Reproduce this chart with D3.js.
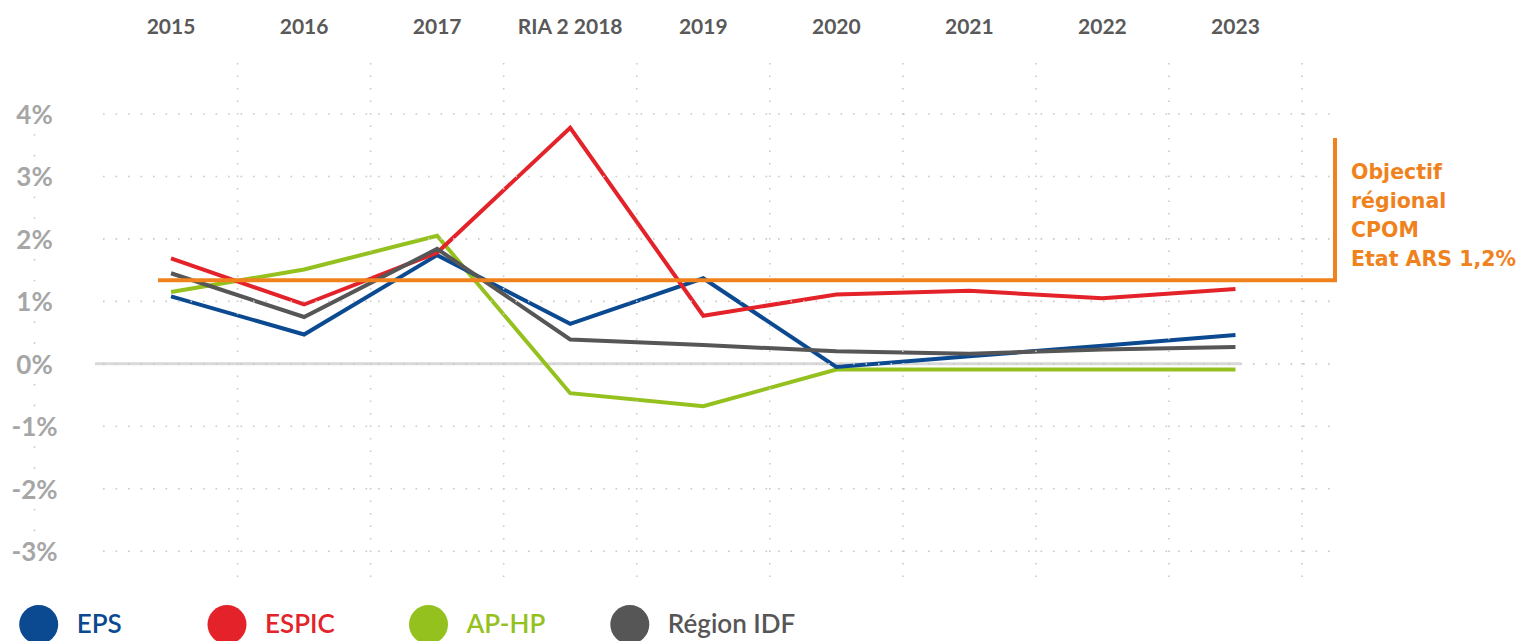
<!DOCTYPE html>
<html><head><meta charset="utf-8">
<script src="https://cdn.jsdelivr.net/npm/d3@7"></script>
<style>
html,body{margin:0;padding:0;background:#fff;}
svg{display:block;}
text{font-family:Lato,"Open Sans",sans-serif;}
</style></head>
<body>
<svg id="chart" width="1519" height="641"></svg>
<script>
// ---- data ----
const categories = ["2015","2016","2017","RIA 2 2018","2019","2020","2021","2022","2023"];
const seriesNames = ["EPS","ESPIC","AP-HP","Région IDF"];
const seriesColors = ["#0b4a91","#e3222a","#95c11f","#575656"];
const eps    = [1.08, 0.47, 1.74, 0.64, 1.37, -0.05, 0.12, 0.29, 0.46];
const espic  = [1.69, 0.95, 1.78, 3.78, 0.77, 1.11, 1.17, 1.05, 1.20];
const aphp   = [1.15, 1.51, 2.05, -0.47, -0.68, -0.09, -0.09, -0.09, -0.09];
const region = [1.45, 0.75, 1.84, 0.39, 0.30, 0.20, 0.16, 0.23, 0.27];
const yTicks = [4, 3, 2, 1, 0, -1, -2, -3];
const objectiveValue = 1.34;
const objectiveLines = ["Objectif", "régional", "CPOM", "Etat ARS 1,2%"];
const objectiveColor = "#f0821e";

// layout constants
const legendCenters = [38.7, 227, 428.5, 629.8];

const svg = d3.select("#chart");

const x = d3.scaleBand().domain(categories).range([104.5, 1302]).paddingInner(0).paddingOuter(0);
const cx = c => x(c) + x.bandwidth() / 2;
const y = d3.scaleLinear().domain([-3, 4]).range([551.2, 114]);

const gridColor = "#c9c9c9";

// zero line
svg.append("line")
  .attr("x1", 95).attr("x2", 1241)
  .attr("y1", y(0)).attr("y2", y(0))
  .attr("stroke", "#d9d9d9").attr("stroke-width", 3);

// series lines
const series = [eps, espic, aphp, region];
const drawOrder = [2, 0, 1, 3];
const line = d3.line().x((d, i) => cx(categories[i])).y(d => y(d));
drawOrder.forEach(k => {
  svg.append("path")
    .datum(series[k])
    .attr("d", line)
    .attr("fill", "none")
    .attr("stroke", seriesColors[k])
    .attr("stroke-width", 4)
    .attr("stroke-linejoin", "miter");
});

// horizontal dotted grid (over lines)
const gGrid = svg.append("g");
gGrid.selectAll("line.h").data(yTicks).join("line")
  .attr("class", "h")
  .attr("x1", 103).attr("x2", 1332)
  .attr("y1", d => y(d)).attr("y2", d => y(d))
  .attr("stroke", gridColor).attr("stroke-width", 1.6)
  .attr("stroke-dasharray", "1.6 10.9");

// vertical dotted grid at band boundaries
gGrid.selectAll("line.v").data(categories).join("line")
  .attr("class", "v")
  .attr("x1", d => x(d) + x.bandwidth()).attr("x2", d => x(d) + x.bandwidth())
  .attr("y1", 63).attr("y2", 582)
  .attr("stroke", gridColor).attr("stroke-width", 1.6)
  .attr("stroke-dasharray", "1.6 10.9");

// y axis dotted vertical line (dots between labels)
const yDots = [];
for (let v = -3; v < 4; v++) { yDots.push(v + 1/3, v + 2/3); }
svg.append("g").selectAll("circle").data(yDots).join("circle")
  .attr("cx", 34.5).attr("cy", d => y(d)).attr("r", 0.9)
  .attr("fill", gridColor);

// y labels
const yAxis = d3.axisLeft(y).tickValues(yTicks).tickFormat(d => d + "%").tickSize(0);
const gy = svg.append("g").attr("transform", "translate(34.5,0)").call(yAxis);
gy.select(".domain").remove();
gy.selectAll("text")
  .attr("x", 0).attr("dy", "0.36em")
  .attr("text-anchor", "middle")
  .attr("fill", "#a6a6a6")
  .style("font-size", "26px").style("font-weight", "700");

// top category labels
const xAxis = d3.axisTop(x).tickSize(0);
const gx = svg.append("g").attr("transform", "translate(0,26)").call(xAxis);
gx.select(".domain").remove();
gx.selectAll("text")
  .attr("y", 0).attr("dy", "0.36em")
  .attr("fill", "#595959")
  .style("font-size", "21px").style("font-weight", "700");

// objective line
const objY = y(objectiveValue);
svg.append("path")
  .attr("d", `M${cx(categories[0]) - 13},${objY}H1335V138`)
  .attr("fill", "none")
  .attr("stroke", objectiveColor).attr("stroke-width", 4);

svg.append("g").selectAll("text").data(objectiveLines).join("text")
  .attr("x", 1351).attr("y", (d, i) => 179 + i * 29)
  .attr("fill", objectiveColor)
  .style("font-family", "'DejaVu Sans', sans-serif")
  .style("font-size", "20.5px").style("font-weight", "700")
  .text(d => d);

// legend
const lg = svg.append("g").selectAll("g").data(seriesNames).join("g")
  .attr("transform", (d, i) => `translate(${legendCenters[i]},624.5)`);
lg.append("circle").attr("r", 19.5).attr("fill", (d, i) => seriesColors[i]);
lg.append("text")
  .attr("x", 38).attr("y", 8.5)
  .attr("fill", (d, i) => seriesColors[i])
  .style("font-size", "26px").style("font-weight", "600")
  .text(d => d);
</script>
</body></html>
